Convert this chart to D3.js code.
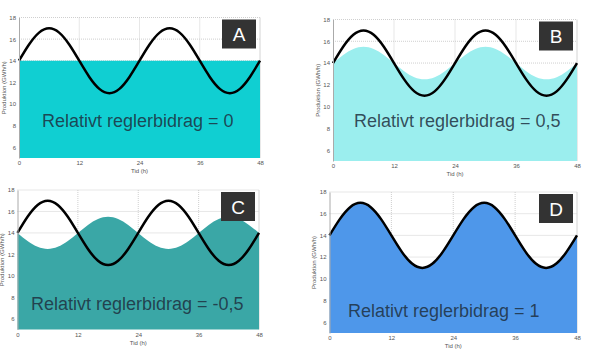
<!DOCTYPE html>
<html>
<head>
<meta charset="utf-8">
<script src="https://cdn.jsdelivr.net/npm/d3@7"></script>
<style>
  html, body { margin: 0; padding: 0; background: #fff; }
  svg { display: block; font-family: "Liberation Sans", Arial, sans-serif; }
</style>
</head>
<body>
<div id="chart"></div>
<script>
// time axis (hours), every 2 h
const hours = [0, 2, 4, 6, 8, 10, 12, 14, 16, 18, 20, 22, 24, 26, 28, 30, 32, 34, 36, 38, 40, 42, 44, 46, 48];

// consumption (black line), GWh/h
const demand = [14, 15.5, 16.6, 17, 16.6, 15.5, 14, 12.5, 11.4, 11, 11.4, 12.5,
                14, 15.5, 16.6, 17, 16.6, 15.5, 14, 12.5, 11.4, 11, 11.4, 12.5, 14];

// production (filled area) for each panel
const prodA = [14, 14, 14, 14, 14, 14, 14, 14, 14, 14, 14, 14,
               14, 14, 14, 14, 14, 14, 14, 14, 14, 14, 14, 14, 14];
const prodB = [14, 14.75, 15.3, 15.5, 15.3, 14.75, 14, 13.25, 12.7, 12.5, 12.7, 13.25,
               14, 14.75, 15.3, 15.5, 15.3, 14.75, 14, 13.25, 12.7, 12.5, 12.7, 13.25, 14];
const prodC = [14, 13.25, 12.7, 12.5, 12.7, 13.25, 14, 14.75, 15.3, 15.5, 15.3, 14.75,
               14, 13.25, 12.7, 12.5, 12.7, 13.25, 14, 14.75, 15.3, 15.5, 15.3, 14.75, 14];
const prodD = [14, 15.5, 16.6, 17, 16.6, 15.5, 14, 12.5, 11.4, 11, 11.4, 12.5,
               14, 15.5, 16.6, 17, 16.6, 15.5, 14, 12.5, 11.4, 11, 11.4, 12.5, 14];

const xTicks = [0, 12, 24, 36, 48];
const yTicks = [6, 8, 10, 12, 14, 16, 18];
const letters = ["A", "B", "C", "D"];
const captions = ["Relativt reglerbidrag = 0", "Relativt reglerbidrag = 0,5",
                  "Relativt reglerbidrag = -0,5", "Relativt reglerbidrag = 1"];
const fills = ["#10cfd2", "#9beeee", "#3aa7a6", "#4e97ea"];
const productions = [prodA, prodB, prodC, prodD];

// plot rectangles in page pixels
const boxes = [
    { left: 19, right: 260, top: 17.5, bottom: 158, textX: 42, textY: 127 },
    { left: 333, right: 577, top: 19.5, bottom: 161, textX: 354, textY: 127 },
    { left: 17.5, right: 259, top: 190, bottom: 329.5, textX: 31, textY: 310 },
    { left: 329.5, right: 577, top: 192, bottom: 333, textX: 348, textY: 317 }
];

const svg = d3.select("#chart").append("svg")
    .attr("width", 590)
    .attr("height", 354);

function drawPanel(i) {
    const b = boxes[i];
    const w = b.right - b.left;
    const h = b.bottom - b.top;
    const g = svg.append("g").attr("transform", `translate(${b.left},${b.top})`);

    const x = d3.scaleLinear().domain([0, 48]).range([0, w]);
    const y = d3.scaleLinear().domain([5, 18]).range([h, 0]);

    // grid + frame
    g.append("g").selectAll("line.vg")
        .data(xTicks.slice(1, -1))
        .join("line")
        .attr("x1", d => x(d)).attr("x2", d => x(d))
        .attr("y1", 0).attr("y2", h)
        .attr("stroke", "#cfcfcf")
        .attr("stroke-dasharray", "1 1");
    g.append("g").selectAll("line.hg")
        .data(yTicks)
        .join("line")
        .attr("x1", 0).attr("x2", w)
        .attr("y1", d => y(d)).attr("y2", d => y(d))
        .attr("stroke", "#cfcfcf")
        .attr("stroke-dasharray", "1 1");
    g.append("line")
        .attr("x1", w).attr("x2", w).attr("y1", 0).attr("y2", h)
        .attr("stroke", "#d4d4d4");

    const pts = hours.map((t, k) => ({ t: t, p: productions[i][k], d: demand[k] }));

    const area = d3.area()
        .x(d => x(d.t))
        .y0(h)
        .y1(d => y(d.p))
        .curve(d3.curveNatural);

    g.append("path")
        .datum(pts)
        .attr("d", area)
        .attr("fill", fills[i]);

    const line = d3.line()
        .x(d => x(d.t))
        .y(d => y(d.d))
        .curve(d3.curveNatural);

    g.append("path")
        .datum(pts)
        .attr("d", line)
        .attr("fill", "none")
        .attr("stroke", "#000")
        .attr("stroke-width", 2.5);

    // axes
    const xAxis = g.append("g")
        .attr("transform", `translate(0,${h})`)
        .call(d3.axisBottom(x).tickValues(xTicks).tickSize(0).tickPadding(3));
    xAxis.select(".domain").remove();
    xAxis.selectAll("text").attr("font-size", 6).attr("fill", "#555");

    const yAxis = g.append("g")
        .call(d3.axisLeft(y).tickValues(yTicks).tickSize(0).tickPadding(3));
    yAxis.select(".domain").attr("stroke", "#aaa");
    yAxis.selectAll("text").attr("font-size", 6).attr("fill", "#555");

    g.append("text")
        .attr("transform", "rotate(-90)")
        .attr("x", -h / 2)
        .attr("y", -13.5)
        .attr("text-anchor", "middle")
        .attr("font-size", 6)
        .attr("fill", "#555")
        .text("Produktion (GWh/h)");

    g.append("text")
        .attr("x", w / 2)
        .attr("y", h + 15)
        .attr("text-anchor", "middle")
        .attr("font-size", 6)
        .attr("fill", "#555")
        .text("Tid (h)");

    // letter badge
    g.append("rect")
        .attr("x", w - 38)
        .attr("y", 2)
        .attr("width", 34)
        .attr("height", 29)
        .attr("fill", "#333");
    g.append("text")
        .attr("x", w - 21)
        .attr("y", 23.5)
        .attr("text-anchor", "middle")
        .attr("font-size", 19)
        .attr("fill", "#fff")
        .text(letters[i]);

    // caption
    svg.append("text")
        .attr("x", b.textX)
        .attr("y", b.textY)
        .attr("font-size", 18)
        .attr("fill", "#1e3040")
        .attr("fill-opacity", 0.85)
        .text(captions[i]);
}

letters.forEach((l, i) => drawPanel(i));
</script>
</body>
</html>
